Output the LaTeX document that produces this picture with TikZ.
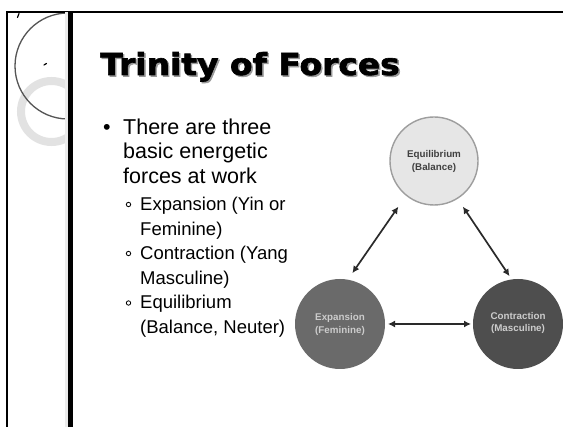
\documentclass[tikz,border=0pt]{standalone}
\usepackage{fontspec}
\setmainfont{Liberation Sans}
\newfontfamily\titlefont{DejaVu Sans}[BoldFeatures={FakeBold=2}]
\usetikzlibrary{arrows.meta}
\definecolor{ringgray}{HTML}{E2E2E2}
\definecolor{arcgray}{HTML}{555555}
\definecolor{eqfill}{HTML}{E6E6E6}
\definecolor{eqline}{HTML}{9E9E9E}
\definecolor{exfill}{HTML}{6A6A6A}
\definecolor{cofill}{HTML}{4E4E4E}
\definecolor{arrcol}{HTML}{2A2A2A}
\tikzset{
  mainitem/.style={anchor=base west, align=left, inner sep=0pt, font=\fontsize{21.5}{24.4}\selectfont},
  subitem/.style={anchor=base west, align=left, inner sep=0pt, font=\fontsize{18.5}{24.6}\selectfont},
  subdot/.style={circle, draw=black, line width=0.8pt, minimum size=4.4pt, inner sep=0pt},
  force/.style={circle, minimum size=90pt, inner sep=0pt, outer sep=0pt, align=center,
     font=\bfseries\fontsize{9.8}{13}\selectfont},
  titletext/.style={anchor=base west, inner sep=0pt, xscale=1.09,
     font=\titlefont\bfseries\fontsize{30.2}{34}\selectfont},
  arr/.style={draw=arrcol, line width=1.7pt, {Latex[length=7pt,width=7pt]}-{Latex[length=7pt,width=7pt]}}
}
\begin{document}
\begin{tikzpicture}[x=1pt,y=-1pt]
\useasboundingbox (0,0) rectangle (563,427);
\fill[white] (0,0) rectangle (563,427);
% decorative circles on the left strip
\begin{scope}
  \clip (7,12) rectangle (68,427);
  \draw[ringgray, line width=8pt] (51.5,111.5) circle (30.5pt);
  \draw[arcgray, line width=1.3pt] (68,66) circle (53pt);
\end{scope}
\draw[black, line width=1.2pt, line cap=round] (17.5,17.5) -- (19,13.5);
\draw[black, line width=1.2pt, line cap=round] (44,65) -- (46.5,63.5);
% frame
\draw[black, line width=2pt] (6,12) -- (563,12);
\draw[black, line width=1.5pt] (7,12) -- (7,427);
\fill[black!8] (65,12) rectangle (68,427);
\fill[black] (68,12) rectangle (73,427);
% title with shadow
\node[titletext, text=black!40] (titleshadow) at (101.5,76.5) {Trinity of Forces};
\node[titletext, text=black] (title) at (100,75) {Trinity of Forces};
% bullets (nodes anchored at the baseline of their last line)
\node[anchor=base west, inner sep=0pt, font=\fontsize{21.5}{24}\selectfont] (b0) at (103,134.5) {•};
\node[mainitem] (b1) at (123,183.3) {There are three\\basic energetic\\forces at work};
\node[subdot] (d1) at (128.5,204.5) {};
\node[subitem] (s1) at (140,235.1) {Expansion (Yin or\\Feminine)};
\node[subdot] (d2) at (128.5,253.5) {};
\node[subitem] (s2) at (140,284.1) {Contraction (Yang or\\Masculine)};
\node[subdot] (d3) at (128.5,303) {};
\node[subitem] (s3) at (140,333.6) {Equilibrium\\(Balance, Neuter)};
% diagram picture background covering the text edge
\fill[white] (292.5,100) rectangle (563,400);
% diagram
\node[force, fill=eqfill, draw=eqline, line width=1.4pt, text=black!75, minimum size=88pt] (eq) at (434,161) {Equilibrium\\(Balance)};
\node[force, fill=exfill, text=black!20] (ex) at (340,324) {Expansion\\(Feminine)};
\node[force, fill=cofill, text=black!20] (co) at (518,324) {\raisebox{4pt}{\shortstack{Contraction\\[1pt](Masculine)}}};
\draw[arr, shorten <=14pt, shorten >=8pt] (eq.231) -- (ex.80);
\draw[arr, shorten <=10pt, shorten >=4pt] (eq.302) -- (co.98);
\draw[arr, shorten <=3pt, shorten >=2pt] (ex.east) -- (co.west);
\end{tikzpicture}
\end{document}
